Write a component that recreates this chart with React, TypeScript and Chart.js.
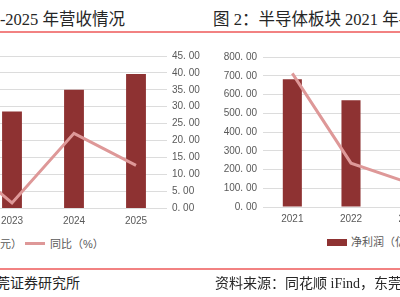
import React, { useEffect, useRef } from "react";
import { Chart, registerables } from "chart.js";

Chart.register(...registerables);

// Figure 1: company revenue (bars, left axis) and YoY growth (line, right axis)
const revenueYears = ["2022", "2023", "2024", "2025"];
const revenueValues = [22.0, 28.6, 35.0, 39.7];
const revenueGrowth = [17.0, 1.5, 22.1, 12.6];
const revenueAxisMax = 45;
const revenueAxisStep = 5;

// Figure 2: semiconductor sector net profit (bars) and YoY growth (line)
const profitYears = ["2021", "2022", "2023"];
const profitValues = [681, 570, 280];
const profitGrowth = [71.3, 23.4, 12.7];
const profitAxisMax = 800;
const profitAxisStep = 100;
const profitGrowthAxisMax = 80;

const BAR_COLOR = "#8E3232";
const LINE_COLOR = "#DE9898";
const GRID_COLOR = "#DCDCDC";
const TICK_COLOR = "#595959";
const RULE_COLOR = "#F28282";
const TEXT_COLOR = "#262626";
const SERIF = '"Liberation Serif", "Noto Sans CJK SC", serif';
const SANS = '"Liberation Sans", "Noto Sans CJK SC", sans-serif';

const fmt = (v: number | string) => Number(v).toFixed(2).replace(".", ". ");
const tickFont = { family: SANS, size: 10 };

function ChartCanvas({ config, style, width, height }: any) {
  const ref = useRef<HTMLCanvasElement | null>(null);
  useEffect(() => {
    if (!ref.current) return;
    const chart = new Chart(ref.current, config);
    return () => chart.destroy();
  }, [config]);
  return (
    <canvas
      ref={ref}
      width={width}
      height={height}
      style={{ position: "absolute", width, height, ...style }}
    />
  );
}

const revenueConfig: any = {
  data: {
    labels: revenueYears,
    datasets: [
      {
        type: "line",
        label: "同比（%）",
        data: revenueGrowth,
        yAxisID: "yR",
        borderColor: LINE_COLOR,
        borderWidth: 3,
        pointRadius: 0,
        tension: 0,
        order: 0,
      },
      {
        type: "bar",
        label: "营收（亿元）",
        data: revenueValues,
        yAxisID: "yL",
        backgroundColor: BAR_COLOR,
        categoryPercentage: 1,
        barPercentage: 0.32,
        order: 1,
      },
    ],
  },
  options: {
    responsive: false,
    animation: false,
    layout: { padding: { top: 10, bottom: 0, left: 0, right: 0 } },
    plugins: { legend: { display: false }, tooltip: { enabled: false } },
    scales: {
      x: {
        offset: true,
        grid: { display: false, drawTicks: false },
        border: { display: false },
        ticks: { color: TICK_COLOR, font: tickFont, padding: 7 },
        afterFit: (s: any) => { s.height = 20; },
      },
      yL: {
        position: "left",
        min: 0,
        max: revenueAxisMax,
        grid: { display: false },
        border: { display: false },
        ticks: { stepSize: revenueAxisStep, color: TICK_COLOR, font: tickFont, callback: fmt },
        afterFit: (s: any) => { s.width = 40; },
      },
      yR: {
        position: "right",
        min: 0,
        max: revenueAxisMax,
        grid: { color: GRID_COLOR, lineWidth: 1, drawTicks: false },
        border: { display: false },
        ticks: { stepSize: revenueAxisStep, color: TICK_COLOR, font: tickFont, padding: 5, callback: fmt },
        afterFit: (s: any) => { s.width = 35; },
      },
    },
  },
};

const profitConfig: any = {
  data: {
    labels: profitYears,
    datasets: [
      {
        type: "line",
        label: "同比（%）",
        data: profitGrowth,
        yAxisID: "y1",
        borderColor: LINE_COLOR,
        borderWidth: 3,
        pointRadius: 0,
        tension: 0,
        order: 0,
      },
      {
        type: "bar",
        label: "净利润（亿元）",
        data: profitValues,
        yAxisID: "y",
        backgroundColor: BAR_COLOR,
        categoryPercentage: 1,
        barPercentage: 0.325,
        order: 1,
      },
    ],
  },
  options: {
    responsive: false,
    animation: false,
    layout: { padding: { top: 11, bottom: 0, left: 0, right: 0 } },
    plugins: { legend: { display: false }, tooltip: { enabled: false } },
    scales: {
      x: {
        offset: true,
        grid: { display: false, drawTicks: false },
        border: { display: false },
        ticks: { color: TICK_COLOR, font: tickFont, padding: 6 },
        afterFit: (s: any) => { s.height = 20; },
      },
      y: {
        position: "left",
        min: 0,
        max: profitAxisMax,
        grid: { color: GRID_COLOR, lineWidth: 1, drawTicks: false },
        border: { display: false },
        ticks: { stepSize: profitAxisStep, color: TICK_COLOR, font: tickFont, padding: 6, callback: fmt },
        afterFit: (s: any) => { s.width = 63; },
      },
      y1: {
        position: "right",
        min: 0,
        max: profitGrowthAxisMax,
        grid: { display: false },
        border: { display: false },
        ticks: { stepSize: 10, color: TICK_COLOR, font: tickFont, padding: 5, callback: fmt },
        afterFit: (s: any) => { s.width = 40; },
      },
    },
  },
};

const textAt = (top: number, lh: number, size: number, family: string, color: string) => ({
  position: "absolute" as const,
  top,
  height: lh,
  lineHeight: `${lh}px`,
  fontSize: size,
  fontFamily: family,
  color,
  whiteSpace: "nowrap" as const,
});

export default function App() {
  return (
    <div
      style={{
        position: "fixed",
        left: 0,
        top: 0,
        width: 400,
        height: 297,
        overflow: "hidden",
        background: "#ffffff",
      }}
    >
      {/* titles */}
      <div style={{ ...textAt(10, 20, 16.5, SERIF, TEXT_COLOR), right: 400 - 125 }}>
        图 1：公司 2021-2025 年营收情况
      </div>
      <div style={{ ...textAt(10, 20, 16.5, SERIF, TEXT_COLOR), left: 213 }}>
        图 2：半导体板块 2021 年-2023 年净利润情况
      </div>
      <div style={{ position: "absolute", left: 0, top: 31, width: 400, height: 2, background: RULE_COLOR }} />

      {/* charts */}
      <ChartCanvas config={revenueConfig} width={323} height={183} style={{ left: -121, top: 45 }} />
      <ChartCanvas config={profitConfig} width={279} height={182} style={{ left: 200, top: 45 }} />

      {/* legend, figure 1 */}
      <div style={{ ...textAt(236, 16, 11, SANS, TICK_COLOR), right: 400 - 22 }}>
        <span style={{ display: "inline-block", width: 20, height: 7, background: BAR_COLOR, marginRight: 4, verticalAlign: "middle" }} />
        营收（亿元）
      </div>
      <div style={{ position: "absolute", left: 25, top: 242, width: 20, height: 3, background: LINE_COLOR }} />
      <div style={{ ...textAt(236, 16, 11, SANS, TICK_COLOR), left: 50 }}>同比（%）</div>

      {/* legend, figure 2 */}
      <div style={{ position: "absolute", left: 327, top: 239, width: 20, height: 7, background: BAR_COLOR }} />
      <div style={{ ...textAt(234, 16, 11, SANS, TICK_COLOR), left: 351 }}>
        净利润（亿元）
        <span style={{ display: "inline-block", width: 20, height: 3, background: LINE_COLOR, margin: "0 4px 0 10px", verticalAlign: "middle" }} />
        同比（%）
      </div>

      {/* sources */}
      <div style={{ position: "absolute", left: 0, top: 268, width: 400, height: 2, background: RULE_COLOR }} />
      <div style={{ ...textAt(275, 18, 14, SERIF, TEXT_COLOR), right: 400 - 80 }}>
        资料来源：同花顺 iFind，东莞证券研究所
      </div>
      <div style={{ ...textAt(275, 18, 14, SERIF, TEXT_COLOR), left: 215 }}>
        资料来源：同花顺 iFind，东莞证券研究所
      </div>
    </div>
  );
}
